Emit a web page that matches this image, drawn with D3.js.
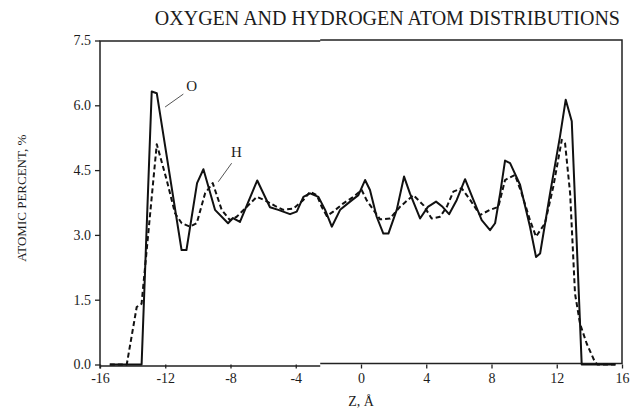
<!DOCTYPE html>
<html lang="en">
<head>
  <meta charset="UTF-8">
  <title>Oxygen and Hydrogen Atom Distributions</title>
  <script src="https://d3js.org/d3.v7.min.js"></script>
  <style>
    body {
      margin: 0;
      background: #fff;
    }
    svg text {
      font-family: "Liberation Serif", "Times New Roman", serif;
      fill: #1c1c1c;
    }
  </style>
</head>
<body>
  <svg width="632" height="411"></svg>

  <script>
    // z position (Å) and atomic percent, one pair per vertex
    const oxygen = [
      [-15.4, 0], [-13.45, 0], [-12.83, 6.32], [-12.52, 6.28], [-11.0, 2.65], [-10.7, 2.65],
      [-10.05, 4.2], [-9.66, 4.52], [-8.95, 3.58], [-8.15, 3.27], [-7.85, 3.39], [-7.42, 3.3],
      [-6.36, 4.26], [-5.58, 3.64], [-5.07, 3.58], [-4.35, 3.48], [-3.94, 3.54], [-3.53, 3.88],
      [-3.12, 3.96], [-2.61, 3.88], [-2.2, 3.58], [-1.79, 3.19], [-1.28, 3.58], [-0.67, 3.77],
      [-0.16, 3.92], [0.25, 4.27], [0.55, 4.04], [0.96, 3.42], [1.37, 3.03], [1.68, 3.03],
      [2.19, 3.58], [2.64, 4.35], [3.0, 3.96], [3.62, 3.38], [4.1, 3.65], [4.6, 3.77],
      [5.0, 3.65], [5.4, 3.48], [5.87, 3.81], [6.38, 4.29], [6.89, 3.81], [7.4, 3.34],
      [7.91, 3.11], [8.22, 3.27], [8.53, 3.96], [8.83, 4.72], [9.14, 4.66], [9.75, 4.16],
      [10.36, 3.19], [10.73, 2.49], [10.98, 2.57], [11.59, 3.96], [12.2, 5.28], [12.55, 6.13],
      [12.92, 5.63], [13.53, 0], [15.6, 0]
    ];

    const hydrogen = [
      [-15.4, 0], [-14.36, 0], [-13.75, 1.33], [-13.45, 1.41], [-12.52, 5.1], [-11.91, 4.27],
      [-11.4, 3.5], [-10.99, 3.27], [-10.48, 3.19], [-10.07, 3.27], [-9.56, 3.96], [-9.09, 4.2],
      [-8.54, 3.58], [-8.03, 3.34], [-7.62, 3.42], [-7.0, 3.65], [-6.39, 3.88], [-5.88, 3.8],
      [-5.27, 3.67], [-4.76, 3.58], [-4.15, 3.61], [-3.53, 3.81], [-3.12, 4.0], [-2.71, 3.92],
      [-2.41, 3.65], [-2.1, 3.44], [-1.7, 3.54], [-1.08, 3.73], [-0.47, 3.88], [0.04, 4.04],
      [0.35, 3.8], [1.17, 3.36], [1.78, 3.38], [2.39, 3.65], [3.21, 3.92], [3.82, 3.69],
      [4.33, 3.38], [4.85, 3.42], [5.26, 3.65], [5.66, 4.0], [6.17, 4.08], [6.69, 3.81],
      [7.3, 3.46], [7.91, 3.58], [8.42, 3.65], [8.83, 4.27], [9.44, 4.39], [9.85, 3.96],
      [10.36, 3.34], [10.73, 2.96], [11.28, 3.27], [11.79, 4.12], [12.31, 5.2], [12.51, 5.12],
      [12.82, 3.96], [13.12, 1.64], [13.43, 0.94], [13.84, 0.48], [14.35, 0.05], [14.5, 0],
      [15.6, 0]
    ];

    const xTicks = [-16, -12, -8, -4, 0, 4, 8, 12, 16];
    const yTicks = [0, 1.5, 3.0, 4.5, 6.0, 7.5];

    // callout labels: text, leader start and end (z, %), label centre (z, %)
    const callouts = [
      { text: "O", from: [-12.01, 5.96], to: [-10.89, 6.26], at: [-10.38, 6.4] },
      { text: "H", from: [-8.75, 4.23], to: [-7.93, 4.66], at: [-7.63, 4.89] }
    ];

    const svg = d3.select("svg");

    const x = d3.scaleLinear().domain([-16, 16]).range([100, 622]);
    const y = d3.scaleLinear().domain([0, 7.5]).range([364.5, 40.5]);

    // plain hyphen for negatives, like the typeset labels
    const fmtZ = d => String(d);

    // axes (domain lines drawn separately as the frame)
    const gx = svg.append("g")
      .attr("transform", `translate(0,${y(0)})`)
      .call(d3.axisBottom(x).tickValues(xTicks).tickSize(4).tickPadding(5).tickFormat(fmtZ));
    gx.select(".domain").remove();
    gx.selectAll("text").style("font-size", "14px");

    const gy = svg.append("g")
      .attr("transform", `translate(${x(-16)},0)`)
      .call(d3.axisLeft(y).tickValues(yTicks).tickSize(5).tickPadding(4).tickFormat(d3.format(".1f")));
    gy.select(".domain").remove();
    gy.selectAll("text").style("font-size", "14px");

    svg.selectAll(".tick line").attr("stroke", "#222").attr("stroke-width", 1.3);

    // frame, with the small seam where the two halves of the plot meet
    const seam = x(-2.5);
    const frame = d3.path();
    frame.moveTo(x(-16), y(0) + 1.5);
    frame.lineTo(seam, y(0) + 1.5);
    frame.moveTo(seam, y(0) - 1);
    frame.lineTo(x(16), y(0) - 1);
    frame.lineTo(x(16), y(7.5) - 0.5);
    frame.lineTo(seam, y(7.5) - 0.5);
    frame.moveTo(seam, y(7.5) + 0.5);
    frame.lineTo(x(-16), y(7.5) + 0.5);
    frame.lineTo(x(-16), y(0) + 4);
    svg.append("path")
      .attr("d", frame.toString())
      .attr("fill", "none")
      .attr("stroke", "#222")
      .attr("stroke-width", 1.5);

    const line = d3.line()
      .x(d => x(d[0]))
      .y(d => y(d[1]));

    svg.append("path")
      .datum(hydrogen)
      .attr("fill", "none")
      .attr("stroke", "#111")
      .attr("stroke-width", 2)
      .attr("stroke-dasharray", "5,3")
      .attr("stroke-linejoin", "round")
      .attr("d", line);

    svg.append("path")
      .datum(oxygen)
      .attr("fill", "none")
      .attr("stroke", "#111")
      .attr("stroke-width", 2)
      .attr("stroke-linejoin", "round")
      .attr("d", line);

    // curve labels with leader lines
    callouts.forEach(c => {
      svg.append("line")
        .attr("x1", x(c.from[0])).attr("y1", y(c.from[1]))
        .attr("x2", x(c.to[0])).attr("y2", y(c.to[1]))
        .attr("stroke", "#555")
        .attr("stroke-width", 1);
      svg.append("text")
        .attr("x", x(c.at[0]))
        .attr("y", y(c.at[1]))
        .attr("text-anchor", "middle")
        .attr("dominant-baseline", "middle")
        .style("font-size", "15px")
        .text(c.text);
    });

    svg.append("text")
      .attr("x", 620)
      .attr("y", 25)
      .attr("text-anchor", "end")
      .style("font-size", "20px")
      .text("OXYGEN AND HYDROGEN ATOM DISTRIBUTIONS");

    svg.append("text")
      .attr("x", x(0))
      .attr("y", 406)
      .attr("text-anchor", "middle")
      .style("font-size", "14px")
      .text("Z, Å");

    svg.append("text")
      .attr("transform", `translate(26,${y(3.85)}) rotate(-90)`)
      .attr("text-anchor", "middle")
      .style("font-size", "13px")
      .text("ATOMIC PERCENT, %");
  </script>
</body>
</html>
